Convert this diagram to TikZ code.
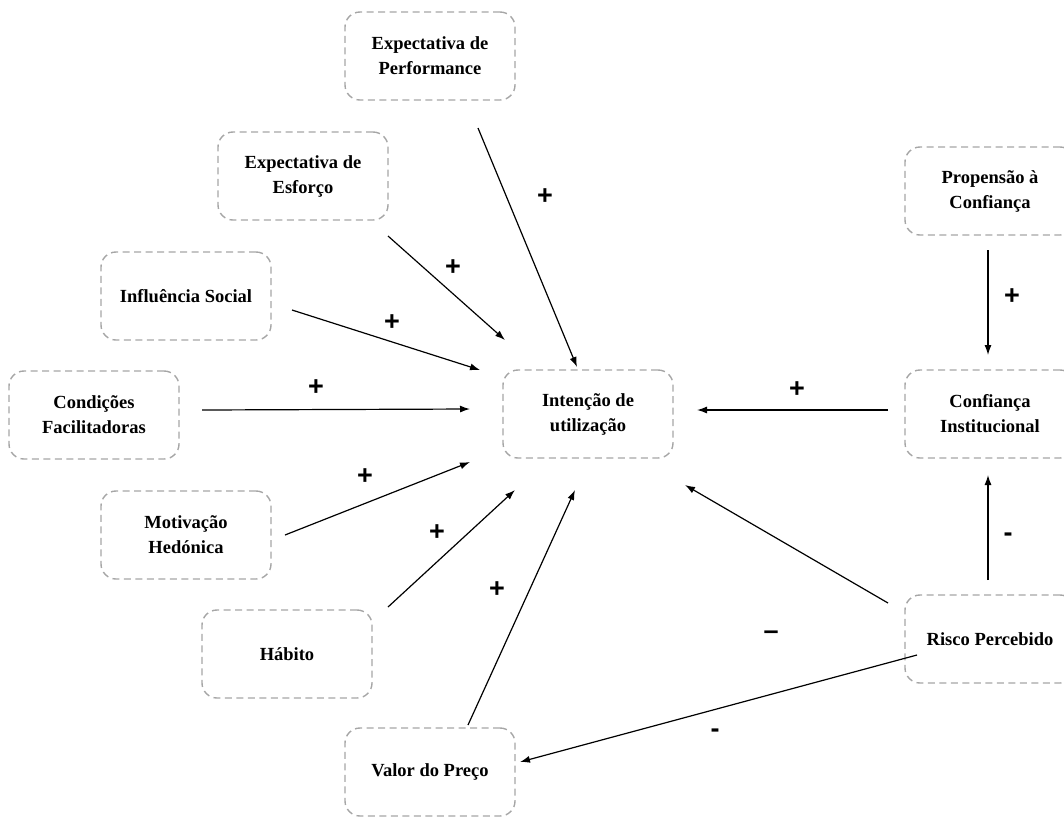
\documentclass[tikz,border=0pt]{standalone}
\usepackage{fontspec}
\setmainfont{Liberation Serif}
\newfontfamily\signfont{Liberation Sans}
\usetikzlibrary{arrows.meta,calc}
\begin{document}
\begin{tikzpicture}[x=1pt,y=-1pt,
  box/.style={draw=black!35, dashed, dash pattern=on 7pt off 4.5pt, line width=1.4pt, rounded corners=15pt,
    minimum width=170pt, minimum height=88pt, align=center,
    font=\fontsize{18.5}{25}\selectfont\bfseries},
  conn/.style={line width=1.2pt, -{Latex[length=10pt,width=7pt]}},
  sign/.style={font=\signfont\fontsize{27}{27}\selectfont\bfseries, inner sep=0pt}]
\useasboundingbox (0,0) rectangle (1064,820);
\node[box] (perf) at (430,56) {Expectativa de\\Performance};
\node[box] (esf) at (303,176) {Expectativa de\\Esforço};
\node[box] (inf) at (186,296) {Influência Social};
\node[box] (cond) at (94,415) {Condições\\Facilitadoras};
\node[box] (mot) at (186,535) {Motivação\\Hedónica};
\node[box] (hab) at (287,654) {Hábito};
\node[box] (val) at (430,772) {Valor do Preço};
\node[box] (int) at (588,414) {Intenção de\\utilização};
\node[box] (prop) at (990,191) {Propensão à\\Confiança};
\node[box] (conf) at (990,414) {Confiança\\Institucional};
\node[box] (risco) at (990,639) {Risco Percebido};

\draw[conn] ($(perf.center)+(48,72)$) -- ($(int.center)+(-11,-47)$);
\draw[conn] ($(esf.center)+(85,60)$) -- ($(int.center)+(-83,-74)$);
\draw[conn] ($(inf.center)+(106,14)$) -- ($(int.center)+(-108,-44)$);
\draw[conn] ($(cond.center)+(108,-5)$) -- ($(int.center)+(-118,-5)$);
\draw[conn] ($(mot.center)+(99,0)$) -- ($(int.center)+(-118,48)$);
\draw[conn] ($(hab.center)+(101,-47)$) -- ($(int.center)+(-73,76)$);
\draw[conn] ($(val.center)+(38,-47)$) -- ($(int.center)+(-13,76)$);
\draw[conn] ($(conf.center)+(-102,-4)$) -- ($(int.center)+(109,-4)$);
\draw[conn] ($(risco.center)+(-102,-36)$) -- ($(int.center)+(97,71)$);
\draw[conn] ($(risco.center)+(-2,-59)$) -- ($(conf.center)+(-2,61)$);
\draw[conn] ($(prop.center)+(-2,59)$) -- ($(conf.center)+(-2,-59)$);
\draw[conn] ($(risco.center)+(-73,16)$) -- ($(val.center)+(90,-10)$);

\node[sign] (s1) at (545,197) {+};
\node[sign] (s2) at (453,268) {+};
\node[sign] (s3) at (392,323) {+};
\node[sign] (s4) at (316,388) {+};
\node[sign] (s5) at (365,477) {+};
\node[sign] (s6) at (437,533) {+};
\node[sign] (s7) at (497,590) {+};
\node[sign] (s8) at (797,390) {+};
\node[sign] (s9) at (771,635) {–};
\node[sign] (s10) at (1008,537) {-};
\node[sign] (s11) at (1012,297) {+};
\node[sign] (s12) at (715,733) {-};
\end{tikzpicture}
\end{document}
